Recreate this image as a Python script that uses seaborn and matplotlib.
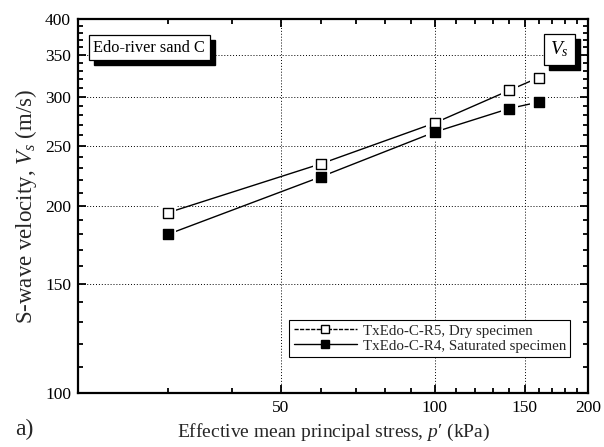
import matplotlib
matplotlib.use("Agg")
import matplotlib.pyplot as plt
from matplotlib.lines import Line2D
from matplotlib.patches import Rectangle
from matplotlib.ticker import FixedLocator, NullFormatter
import seaborn as sns
import pandas as pd

# ---- data ----
p_kpa = [30, 60, 100, 140, 160]
vs_dry = [195, 234, 272, 307, 322]
vs_sat = [180, 223, 263, 287, 294]
label_dry = "TxEdo-C-R5, Dry specimen"
label_sat = "TxEdo-C-R4, Saturated specimen"
x_ticks = [50, 100, 150, 200]
y_ticks = [100, 150, 200, 250, 300, 350, 400]

sns.set_style("ticks")
plt.rcParams['font.family'] = ['Liberation Serif', 'DejaVu Serif']
plt.rcParams['mathtext.fontset'] = 'custom'
plt.rcParams['mathtext.rm'] = 'Liberation Serif'
plt.rcParams['mathtext.it'] = 'Liberation Serif:italic'

df = pd.DataFrame({
    "p": p_kpa * 2,
    "vs": vs_dry + vs_sat,
    "series": [label_dry] * len(p_kpa) + [label_sat] * len(p_kpa),
})

fig = plt.figure(figsize=(6.04, 4.47), dpi=100)
ax = fig.add_axes([0.129, 0.121, 0.845, 0.8365])

sns.lineplot(data=df, x="p", y="vs", hue="series", palette=["black", "black"],
             ax=ax, legend=False, linewidth=1.0, zorder=2, sort=False)
# white halo creating gaps at markers
sns.scatterplot(data=df, x="p", y="vs", marker="s", s=150, color="white",
                edgecolor="none", ax=ax, legend=False, zorder=3)
sns.scatterplot(data=df[df.series == label_dry], x="p", y="vs", marker="s", s=60,
                color="white", edgecolor="black", linewidth=1.0, ax=ax,
                legend=False, zorder=4)
sns.scatterplot(data=df[df.series == label_sat], x="p", y="vs", marker="s", s=60,
                color="black", edgecolor="black", linewidth=1.0, ax=ax,
                legend=False, zorder=4)

ax.set_xscale("log")
ax.set_yscale("log")
ax.set_xlim(20, 200)
ax.set_ylim(100, 400)

ax.xaxis.set_major_locator(FixedLocator(x_ticks))
ax.set_xticklabels([str(t) for t in x_ticks])
ax.xaxis.set_minor_locator(FixedLocator([30, 40, 60, 70, 80, 90] + list(range(110, 200, 10))))
ax.xaxis.set_minor_formatter(NullFormatter())
ax.yaxis.set_major_locator(FixedLocator(y_ticks))
ax.set_yticklabels([str(t) for t in y_ticks])
ax.yaxis.set_minor_locator(FixedLocator([v for v in range(110, 400, 10) if v not in y_ticks]))
ax.yaxis.set_minor_formatter(NullFormatter())

ax.tick_params(which="both", direction="in", top=True, right=True, colors="black",
               labelsize=12.5, width=1.3)
ax.tick_params(which="major", length=6, pad=5)
ax.tick_params(which="minor", length=3.5)
for s in ax.spines.values():
    s.set_linewidth(1.6)
    s.set_color("black")

for x in [50, 100, 150]:
    ax.axvline(x, color="black", linestyle=(0, (1, 2)), linewidth=0.7, zorder=1)
for y in [150, 200, 250, 300, 350]:
    ax.axhline(y, color="black", linestyle=(0, (1, 2)), linewidth=0.7, zorder=1)

ax.set_xlabel("Effective mean principal stress, $p$′ (kPa)", fontsize=14, labelpad=4)
ax.set_ylabel("S-wave velocity, $V_s$ (m/s)", fontsize=16.5, labelpad=4)

# boxes with shadows
t1 = ax.text(0.03, 0.945, "Edo-river sand C", transform=ax.transAxes, fontsize=11.8,
             ha="left", va="top", color="black", zorder=7,
             bbox=dict(boxstyle="square,pad=0.28", facecolor="white", edgecolor="black",
                       linewidth=0.9))
t2 = ax.text(0.962, 0.945, "$V_s$", transform=ax.transAxes, fontsize=14,
             ha="right", va="top", color="black", zorder=7,
             bbox=dict(boxstyle="square,pad=0.3", facecolor="white", edgecolor="black",
                       linewidth=0.9))

handles = [
    Line2D([], [], color="black", linestyle=(0, (3, 1)), linewidth=1.0, marker="s",
           markersize=6, markerfacecolor="white", markeredgecolor="black"),
    Line2D([], [], color="black", linestyle="-", linewidth=1.0, marker="s",
           markersize=6, markerfacecolor="black", markeredgecolor="black"),
]
leg = ax.legend(handles, [label_dry, label_sat], loc="lower right",
                bbox_to_anchor=(0.965, 0.096), borderaxespad=0, fontsize=10.8,
                frameon=True, fancybox=False, edgecolor="black", handlelength=4.2,
                borderpad=0.3, labelspacing=0.1, handletextpad=0.4)
leg.get_frame().set_linewidth(0.8)
leg.get_frame().set_alpha(1)
leg.set_zorder(8)

fig.text(0.025, 0.015, "a)", fontsize=17, ha="left", va="bottom")

fig.canvas.draw()
for t in (t1, t2):
    bb = t.get_bbox_patch().get_window_extent()
    ax.add_artist(Rectangle((bb.x0 + 5, bb.y0 - 5), bb.width, bb.height,
                            transform=None, facecolor="black", edgecolor="black",
                            zorder=6, clip_on=False))

fig.savefig("out.png", dpi=100)
